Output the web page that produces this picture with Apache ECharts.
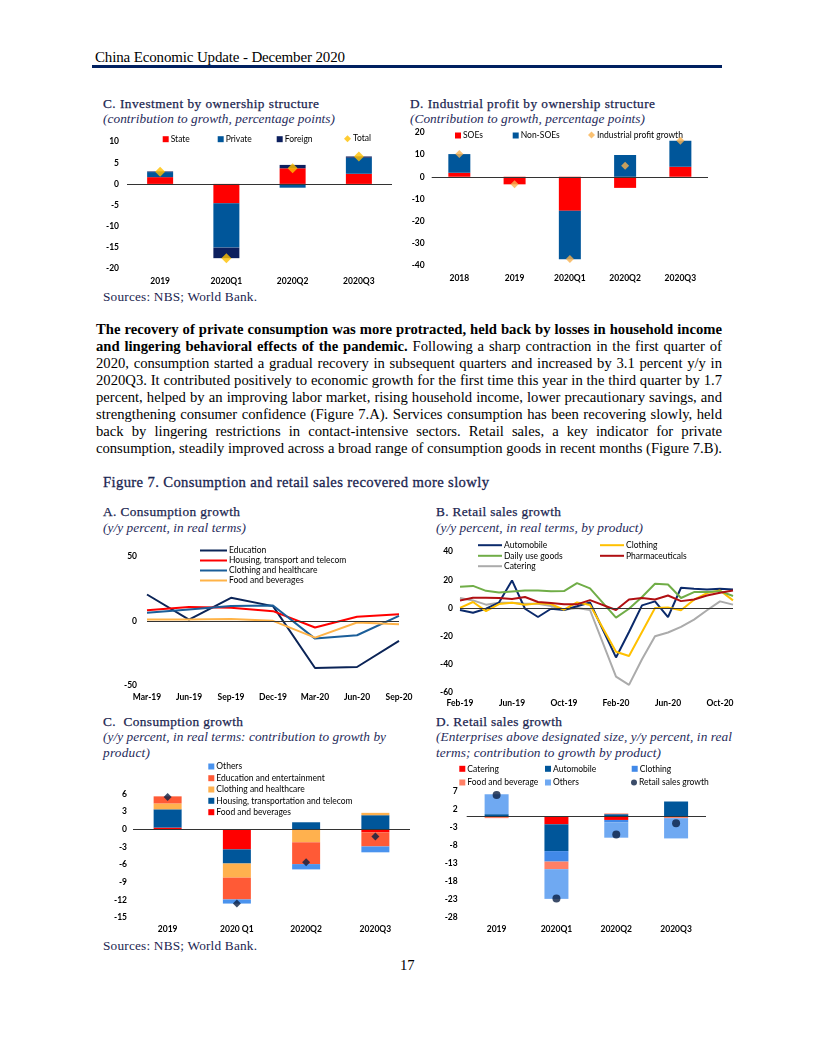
<!DOCTYPE html>
<html><head><meta charset="utf-8">
<script src="https://cdn.jsdelivr.net/npm/echarts@6/dist/echarts.min.js"></script>
<style>
body{margin:0;background:#fff;}
#page{position:relative;width:816px;height:1056px;overflow:hidden;font-family:"Liberation Serif","Times New Roman",serif;color:#000;}
.t{position:absolute;white-space:nowrap;line-height:16px;height:16px;}
.hd{font-size:15px;}
.ct{font-size:13.3px;color:#1b2550;-webkit-text-stroke:0.25px #1b2550;}
.cs{font-size:13.3px;color:#1f2b5b;font-style:italic;}
.src{font-size:13.3px;color:#1b2550;}
.pl{font-size:14.67px;}
.fig{font-size:14.67px;color:#1b2550;-webkit-text-stroke:0.3px #1b2550;}
.chart{position:absolute;left:0;top:0;width:816px;height:1056px;}
</style></head>
<body><div id="page">
<div class="t hd" style="left:95px;top:49px" data-w="250">China Economic Update - December 2020</div>
<div style="position:absolute;left:92px;top:65px;width:630px;height:2.5px;background:#002060"></div>

<div class="t ct" style="left:103px;top:96px" data-w="216">C. Investment by ownership structure</div>
<div class="t cs" style="left:103px;top:111px" data-w="232">(contribution to growth, percentage points)</div>
<div class="t ct" style="left:410px;top:96px" data-w="245">D. Industrial profit by ownership structure</div>
<div class="t cs" style="left:410px;top:111px" data-w="235">(Contribution to growth, percentage points)</div>
<div class="t src" style="left:103px;top:289px" data-w="154">Sources: NBS; World Bank.</div>

<div class="t pl" style="left:96px;top:321px" data-w="626" data-p="1"><b>The recovery of private consumption was more protracted, held back by losses in household income</b></div>
<div class="t pl" style="left:96px;top:338px" data-w="626" data-p="1"><b>and lingering behavioral effects of the pandemic.</b> Following a sharp contraction in the first quarter of</div>
<div class="t pl" style="left:96px;top:355px" data-w="626" data-p="1">2020, consumption started a gradual recovery in subsequent quarters and increased by 3.1 percent y/y in</div>
<div class="t pl" style="left:96px;top:372px" data-w="626" data-p="1">2020Q3. It contributed positively to economic growth for the first time this year in the third quarter by 1.7</div>
<div class="t pl" style="left:96px;top:389px" data-w="626" data-p="1">percent, helped by an improving labor market, rising household income, lower precautionary savings, and</div>
<div class="t pl" style="left:96px;top:406px" data-w="626" data-p="1">strengthening consumer confidence (Figure 7.A). Services consumption has been recovering slowly, held</div>
<div class="t pl" style="left:96px;top:423px" data-w="626" data-p="1">back by lingering restrictions in contact-intensive sectors. Retail sales, a key indicator for private</div>
<div class="t pl" style="left:96px;top:440px" data-w="626" data-p="1">consumption, steadily improved across a broad range of consumption goods in recent months (Figure 7.B).</div>

<div class="t fig" style="left:103px;top:474px" data-w="386">Figure 7. Consumption and retail sales recovered more slowly</div>

<div class="t ct" style="left:103px;top:504px" data-w="137">A. Consumption growth</div>
<div class="t cs" style="left:103px;top:520px" data-w="143">(y/y percent, in real terms)</div>
<div class="t ct" style="left:436px;top:504px" data-w="125">B. Retail sales growth</div>
<div class="t cs" style="left:436px;top:520px" data-w="207">(y/y percent, in real terms, by product)</div>

<div class="t ct" style="left:103px;top:714px" data-w="140">C.&nbsp; Consumption growth</div>
<div class="t cs" style="left:103px;top:729px" data-w="283">(y/y percent, in real terms: contribution to growth by</div>
<div class="t cs" style="left:103px;top:745px" data-w="47">product)</div>
<div class="t ct" style="left:436px;top:714px" data-w="126">D. Retail sales growth</div>
<div class="t cs" style="left:436px;top:729px" data-w="296">(Enterprises above designated size, y/y percent, in real</div>
<div class="t cs" style="left:436px;top:745px" data-w="225">terms; contribution to growth by product)</div>
<div class="t src" style="left:103px;top:938px" data-w="154">Sources: NBS; World Bank.</div>
<div class="t pl" style="left:400px;top:957px">17</div>

<div id="c1" class="chart"></div>
<div id="c2" class="chart"></div>
<div id="c3" class="chart"></div>
<div id="c4" class="chart"></div>
<div id="c5" class="chart"></div>
<div id="c6" class="chart"></div>
</div>
<script>
// ---- Chart C: Investment by ownership structure ----
const invCats = ['2019','2020Q1','2020Q2','2020Q3'];
const invState = [1.6, -4.6, 3.7, 2.4];
const invPrivate = [1.2, -10.5, -0.9, 3.8];
const invForeign = [0.15, -2.5, 0.8, 0.3];
const invTotal = [2.9, -17.6, 3.7, 6.5];

// ---- Chart D: Industrial profit by ownership structure ----
const profCats = ['2018','2019','2020Q1','2020Q2','2020Q3'];
const profSOE = [1.8, -3.4, -15.3, -5.0, 4.5];
const profNonSOE = [8.4, 0, -21.8, 9.8, 11.7];
const profTotal = [10.2, -3.4, -37.0, 5.0, 16.2];

// ---- Figure 7.A: Consumption growth ----
const consCats = ['Mar-19','Jun-19','Sep-19','Dec-19','Mar-20','Jun-20','Sep-20'];
const consEducation = [20.7, 1.3, 18.1, 11.7, -36.3, -35.5, -15.3];
const consHousing = [8.5, 11.1, 10.4, 7.8, -4.9, 3.4, 5.4];
const consClothing = [6.5, 9.1, 11.7, 12.2, -13.5, -10.9, 4.1];
const consFood = [1.3, 1.3, 1.8, 0.3, -12.7, -1.0, -2.3];

// ---- Figure 7.B: Retail sales growth ----
const rsMonths = ['Feb-19','Mar-19','Apr-19','May-19','Jun-19','Jul-19','Aug-19','Sep-19','Oct-19','Nov-19','Dec-19','Jan-20','Feb-20','Mar-20','Apr-20','May-20','Jun-20','Jul-20','Aug-20','Sep-20','Oct-20','Nov-20'];
const rsAuto = [-1.4, -3.4, -0.5, 3.9, 19.6, -0.5, -6.4, -0.5, -1.4, 1.2, 3.9, null, -35.1, -17.0, 1.9, 4.7, -6.4, 14.4, 13.7, 13.2, 13.7, 13.2];
const rsClothing = [0.1, 4.3, -2.2, 2.8, 3.8, 2.4, 3.3, 2.8, -1.2, 4.0, 2.1, null, -31.1, -34.1, -17.0, 0.0, 0.3, -1.6, 5.9, 10.6, 12.5, 5.4];
const rsDaily = [15.1, 15.7, 12.2, 11.1, 11.8, 12.5, 12.5, 11.9, 12.0, 17.7, 14.0, null, -6.8, -0.5, 7.8, 17.2, 16.7, 7.1, 11.3, 11.3, 12.0, 8.5];
const rsPharma = [5.4, 7.3, 7.3, 7.1, 6.4, 7.8, 4.3, 3.5, 2.6, 2.6, 5.6, null, -1.4, 6.1, 7.1, 6.1, 8.9, 4.9, 6.1, 8.9, 10.9, 12.5];
const rsCatering = [7.1, 5.4, 2.4, 3.8, 3.8, 3.1, 3.1, 1.4, -1.2, 0.0, -1.4, null, -48.7, -54.6, -36.4, -20.0, -17.4, -13.4, -8.2, -1.6, 4.7, 2.4];

// ---- Figure 7.C: Consumption growth contributions ----
const ccCats = ['2019','2020 Q1','2020Q2','2020Q3'];
const ccFood = [0.3, -3.4, 0, -0.5];
const ccHousing = [3.1, -2.4, 1.2, 2.4];
const ccClothing = [1.0, -2.4, -2.2, 0.4];
const ccEducation = [1.2, -3.7, -3.7, -2.4];
const ccOthers = [0, -0.7, -0.9, -1.0];
const ccTotal = [5.5, -12.6, -5.6, -1.2];
const ccTicks = [-15,-12,-9,-6,-3,0,3,6];

// ---- Figure 7.D: Retail sales contributions ----
const rdCats = ['2019','2020Q1','2020Q2','2020Q3'];
const rdCatering = [0, -2.2, -1.0, -0.2];
const rdAuto = [0.6, -7.4, 0.6, 4.1];
const rdClothing = [0, -2.9, -0.7, 0];
const rdFood = [-0.5, -2.1, 0.2, -0.3];
const rdOthers = [5.5, -8.2, -4.2, -5.6];
const rdTotal = [5.9, -22.7, -5.0, -1.9];
const rdTicks = [-28,-23,-18,-13,-8,-3,2,7];

const FONT = 'Lato';
const zeroLine = {silent:true, symbol:'none', label:{show:false}, lineStyle:{color:'#333', width:1.2, type:'solid'}, data:[{yAxis:0}], animation:false};
function catAxis(cats, margin, extra){
  return Object.assign({type:'category', data:cats, axisLine:{show:false}, axisTick:{show:false},
    axisLabel:{fontFamily:FONT, fontWeight:'bold', fontSize:8.5, color:'#000', margin:margin, interval:0}}, extra||{});
}
function valAxis(min,max,interval,margin,custom){
  const a = {type:'value', min:min, max:max, interval:interval, splitLine:{show:false}, axisLine:{show:false}, axisTick:{show:false},
    axisLabel:{fontFamily:FONT, fontWeight:'bold', fontSize:8.5, color:'#000', margin:margin}};
  if (custom) a.axisLabel.customValues = custom;
  return a;
}
function leg(name,x,y,o){
  o=o||{}; const ih=o.ih||6;
  return {data:[name], left:x, top:y-ih/2, padding:0, itemWidth:o.iw||6, itemHeight:ih, icon:o.icon||'rect',
    selectedMode:false, itemStyle:{borderWidth:0}, textStyle:{fontFamily:FONT, fontSize:8.5, color:'#000', padding:[0,0,0,-3]}};
}
function bar(name,data,color,w){
  return {name:name, type:'bar', stack:'s', data:data, barWidth:w, itemStyle:{color:color}};
}
function dots(name,data,color,symbol,size){
  return {name:name, type:'scatter', data:data, symbol:symbol, symbolSize:size, itemStyle:{color:color}, z:5, markLine:zeroLine};
}
function line(name,data,color){
  return {name:name, type:'line', data:data, symbol:'none', connectNulls:true, lineStyle:{color:color, width:2}, itemStyle:{color:color}};
}

const opts = [];
// Chart C
opts.push({animation:false,
  grid:{left:127, top:141.7, width:265, height:126.6},
  xAxis:catAxis(invCats,8), yAxis:valAxis(-20,10,5,8),
  legend:[leg('State',162.7,137.7), leg('Private',217.7,137.7), leg('Foreign',276.7,137.7), leg('Total',344,137.7,{icon:'diamond',iw:7,ih:7})],
  series:[bar('State',invState,'#FF0000',26), bar('Private',invPrivate,'#00569A',26), bar('Foreign',invForeign,'#0C1F5E',26),
    dots('Total',invTotal,'#FFC000','diamond',10)]
});
// Chart D
opts.push({animation:false,
  grid:{left:431.7, top:132.3, width:276.3, height:133.4},
  xAxis:catAxis(profCats,8), yAxis:valAxis(-40,20,10,7),
  legend:[leg('SOEs',455,134), leg('Non-SOEs',512.7,134), leg('Industrial profit growth',588,134,{icon:'diamond',iw:7,ih:7})],
  series:[bar('SOEs',profSOE,'#FF0000',22), bar('Non-SOEs',profNonSOE,'#00569A',22),
    dots('Industrial profit growth',profTotal,'#F9B24F','diamond',8)]
});
// Figure 7.A
const l3 = line('Education',consEducation,'#0B2457');
l3.markLine = zeroLine;
opts.push({animation:false,
  grid:{left:147, top:556.7, width:252, height:129},
  xAxis:catAxis(consCats,7,{boundaryGap:false}), yAxis:valAxis(-50,50,50,10),
  legend:[leg('Education',200,547,{iw:27,ih:2}), leg('Housing, transport and telecom',200,557,{iw:27,ih:2}),
    leg('Clothing and healthcare',200,567,{iw:27,ih:2}), leg('Food and beverages',200,577,{iw:27,ih:2})],
  series:[l3, line('Housing, transport and telecom',consHousing,'#FF0000'),
    line('Clothing and healthcare',consClothing,'#1B5E99'), line('Food and beverages',consFood,'#FFB347')]
});
// Figure 7.B
const l4 = line('Automobile',rsAuto,'#0B2A6B');
const l4c = line('Catering',rsCatering,'#ABABAB');
l4c.markLine = zeroLine; l4c.z = 1;
const ax4 = catAxis(rsMonths,6,{boundaryGap:false}); ax4.axisLabel.interval = 3;
opts.push({animation:false,
  grid:{left:460, top:551.7, width:273, height:140.8},
  xAxis:ax4, yAxis:valAxis(-60,40,20,7),
  legend:[leg('Automobile',478,541.7,{iw:24,ih:2}), leg('Clothing',600,541.7,{iw:24,ih:2}),
    leg('Daily use goods',478,552.3,{iw:24,ih:2}), leg('Pharmaceuticals',600,552.3,{iw:24,ih:2}),
    leg('Catering',478,562.7,{iw:24,ih:2})],
  series:[l4c, l4, line('Clothing',rsClothing,'#FFC000'), line('Daily use goods',rsDaily,'#70AD47'),
    line('Pharmaceuticals',rsPharma,'#B00F12')]
});
// Figure 7.C
opts.push({animation:false,
  grid:{left:133, top:794, width:277, height:123.7},
  xAxis:catAxis(ccCats,7), yAxis:valAxis(-15,6,3,6,ccTicks),
  legend:[leg('Others',208.3,765), leg('Education and entertainment',208.3,776.7), leg('Clothing and healthcare',208.3,788),
    leg('Housing, transportation and telecom',208.3,799.3), leg('Food and beverages',208.3,810.7)],
  series:[bar('Food and beverages',ccFood,'#FF0000',28), bar('Housing, transportation and telecom',ccHousing,'#00569A',28),
    bar('Clothing and healthcare',ccClothing,'#FFB14E',28), bar('Education and entertainment',ccEducation,'#FF5A36',28),
    bar('Others',ccOthers,'#4A93EE',28), dots('Total',ccTotal,'#0A1F44','diamond',8)]
});
// Figure 7.D
opts.push({animation:false,
  grid:{left:466.7, top:791, width:239.3, height:126.7},
  xAxis:catAxis(rdCats,7), yAxis:valAxis(-28,7,5,9,rdTicks),
  legend:[leg('Catering',459.3,767.3), leg('Automobile',545,767.3), leg('Clothing',631.7,767.3),
    leg('Food and beverage',459.3,781), leg('Others',545,781), leg('Retail sales growth',631,781,{icon:'circle',iw:6,ih:6})],
  series:[bar('Catering',rdCatering,'#FF0000',24), bar('Automobile',rdAuto,'#00569A',24), bar('Clothing',rdClothing,'#4189E8',24),
    bar('Food and beverage',rdFood,'#FF8066',24), bar('Others',rdOthers,'#6FA9F2',24),
    dots('Retail sales growth',rdTotal,'#0A1F44','circle',8)]
});

opts.forEach((o,i)=>{
  const c = echarts.init(document.getElementById('c'+(i+1)), null, {renderer:'canvas'});
  c.setOption(o);
});

function fit(){
  document.querySelectorAll('[data-w]').forEach(el=>{
    el.style.letterSpacing='0px'; el.style.wordSpacing='0px';
    const target = parseFloat(el.getAttribute('data-w'));
    const w = el.getBoundingClientRect().width;
    const txt = el.textContent;
    const diff = target - w;
    const spaces = (txt.match(/ /g)||[]).length;
    if (el.hasAttribute('data-p') && diff > 0 && spaces > 0) {
      el.style.wordSpacing = (diff/spaces)+'px';
    } else {
      el.style.letterSpacing = (diff/Math.max(1,txt.length-1))+'px';
    }
  });
}
fit();
if (document.fonts && document.fonts.ready) document.fonts.ready.then(fit);
</script>
</body></html>
